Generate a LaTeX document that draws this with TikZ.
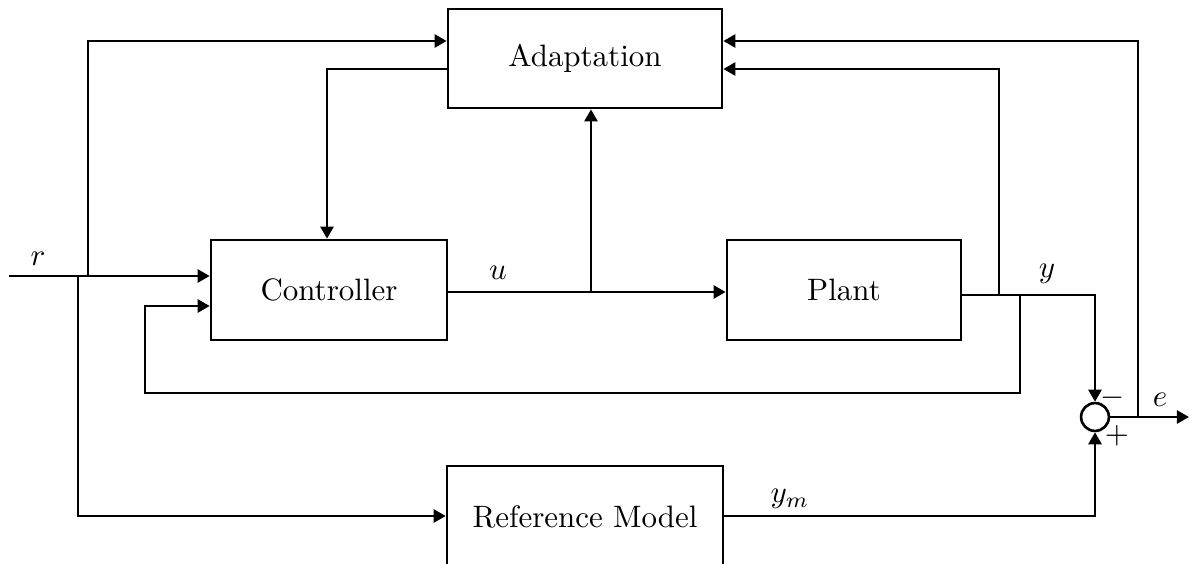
\documentclass[tikz,border=0pt]{standalone}
\usetikzlibrary{arrows.meta}
\begin{document}
\begin{tikzpicture}[x=0.323pt,y=-0.323pt,
  line width=0.85pt,
  blk/.style={draw,rectangle,inner sep=0pt},
  sumc/.style={draw,circle,minimum size=9pt,inner sep=0pt},
  arr/.style={-{Triangle[length=3.9pt,width=4.2pt]}},
  lbl/.style={inner sep=0pt}]
\useasboundingbox (0,0) rectangle (1189,564);
\clip (0,0) rectangle (1189,564);
% blocks
\node[blk,minimum width=88.5pt,minimum height=32pt] (adapt) at (585,58.5) {Adaptation};
\node[blk,minimum width=76.2pt,minimum height=32.3pt] (ctrl) at (329,290) {Controller};
\node[blk,minimum width=75.6pt,minimum height=32.3pt] (plant) at (844,290) {Plant};
\node[blk,minimum width=89.1pt,minimum height=33pt] (ref) at (585,517) {Reference Model};
\node[sumc] (sum) at (1095,417) {};
% coordinates
\coordinate (rin) at (9,276);
\coordinate (bu) at (88,276);
\coordinate (bd) at (78,276);
\coordinate (bu1) at (88,41);
\coordinate (bd1) at (78,516);
\coordinate (ad1) at (327,69);
\coordinate (ub) at (591,292);
\coordinate (yb1) at (999,295);
\coordinate (yb1t) at (999,69);
\coordinate (yb2) at (1020,295);
\coordinate (fb1) at (1020,393);
\coordinate (fb2) at (145,393);
\coordinate (fb3) at (145,306);
\coordinate (ycor) at (1095,295);
\coordinate (eout) at (1189,417);
\coordinate (eb) at (1138,417);
\coordinate (ebt) at (1138,41);
\coordinate (ymc) at (1095,516);
% connectors
\draw[arr] (rin) -- (ctrl.west |- rin);
\draw[arr] (bu) -- (bu1) -- (adapt.west |- bu1);
\draw[arr] (bd) -- (bd1) -- (ref.west |- bd1);
\draw[arr] (adapt.west |- ad1) -- (ad1) -- (ctrl.north -| ad1);
\draw[arr] (ctrl.east |- ub) -- (plant.west |- ub);
\draw[arr] (ub) -- (adapt.south -| ub);
\draw[arr] (plant.east |- ycor) -- (ycor) -- (sum.north);
\draw[arr] (yb1) -- (yb1t) -- (adapt.east |- yb1t);
\draw[arr] (yb2) -- (fb1) -- (fb2) -- (fb3) -- (ctrl.west |- fb3);
\draw[arr] (sum.east) -- (eout);
\draw[arr] (eb) -- (ebt) -- (adapt.east |- ebt);
\draw[arr] (ref.east |- ymc) -- (ymc) -- (sum.south);
% labels
\node[lbl] (lr) at (38,259) {$r$};
\node[lbl] (lu) at (498,273) {$u$};
\node[lbl] (ly) at (1047,274) {$y$};
\node[lbl] (le) at (1160,400) {$e$};
\node[lbl] (lym) at (790,499) {$y_m$};
\node[lbl] (lminus) at (1113,398) {$-$};
\node[lbl] (lplus) at (1117,436) {$+$};
\end{tikzpicture}
\end{document}
